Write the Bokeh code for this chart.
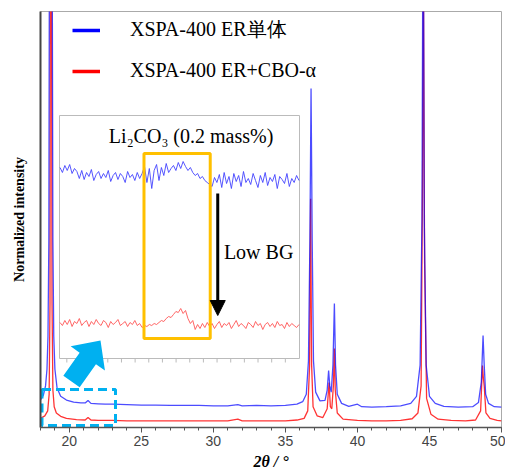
import numpy as np
from bokeh.plotting import figure
from bokeh.models import (Range1d, SingleIntervalTicker, FixedTicker, Legend, LegendItem,
                          Label, Arrow, NormalHead, PolyAnnotation)
from bokeh.embed import file_html
from bokeh.resources import INLINE

# ---------------- data ----------------
# main patterns: 2theta (deg) and normalized intensity
blue_x = [18.00, 18.20, 18.35, 18.45, 18.52, 18.58, 18.62, 18.72, 18.81, 18.86, 18.92, 19.00,
          19.15, 19.40, 19.80, 20.30, 20.80, 21.10, 21.30, 21.50, 22.00, 22.50, 23.00, 24.00,
          25.00, 26.00, 27.00, 28.00, 29.00, 30.00, 31.00, 31.70, 32.00, 33.00, 34.00, 35.00,
          35.80, 36.20, 36.45, 36.60, 36.70, 36.78, 36.86, 36.95, 37.10, 37.40, 37.75, 37.90,
          38.00, 38.08, 38.18, 38.30, 38.40, 38.48, 38.60, 38.90, 39.40, 40.00, 40.30, 41.00,
          42.00, 43.00, 43.70, 44.10, 44.35, 44.48, 44.56, 44.64, 44.77, 45.00, 45.40, 46.00,
          47.00, 48.00, 48.40, 48.60, 48.72, 48.80, 48.90, 49.10, 49.50, 50.00]
blue_y = [0.066, 0.078, 0.100, 0.140, 0.220, 0.450, 1.200, 2.500, 1.200, 0.450, 0.220, 0.140,
          0.095, 0.075, 0.066, 0.061, 0.059, 0.059, 0.065, 0.058, 0.057, 0.056, 0.056, 0.055,
          0.054, 0.054, 0.053, 0.053, 0.053, 0.052, 0.052, 0.055, 0.052, 0.053, 0.052, 0.053,
          0.056, 0.062, 0.080, 0.160, 0.450, 0.815, 0.450, 0.160, 0.085, 0.064, 0.065, 0.090,
          0.137, 0.100, 0.085, 0.150, 0.298, 0.150, 0.080, 0.058, 0.051, 0.056, 0.050, 0.049,
          0.050, 0.052, 0.058, 0.075, 0.150, 0.500, 1.400, 0.500, 0.150, 0.075, 0.058, 0.051,
          0.049, 0.050, 0.060, 0.110, 0.221, 0.150, 0.080, 0.058, 0.050, 0.049]

red_x = [18.00, 18.30, 18.50, 18.60, 18.66, 18.69, 18.72, 18.76, 18.80, 18.86, 18.95, 19.10,
         19.40, 19.80, 20.50, 21.10, 21.30, 21.50, 22.00, 23.00, 24.00, 25.00, 26.00, 27.00,
         28.00, 29.00, 30.00, 31.00, 31.70, 32.00, 33.00, 34.00, 35.00, 35.80, 36.30, 36.55,
         36.68, 36.75, 36.82, 36.92, 37.20, 37.60, 37.90, 38.03, 38.12, 38.22, 38.33, 38.40,
         38.46, 38.60, 39.00, 40.00, 41.00, 42.00, 43.00, 43.80, 44.20, 44.42, 44.52, 44.58,
         44.66, 44.80, 45.10, 45.60, 46.50, 47.50, 48.20, 48.55, 48.68, 48.74, 48.80, 48.92,
         49.20, 49.70, 50.00]
red_y = [0.022, 0.028, 0.040, 0.080, 0.300, 1.200, 2.200, 1.200, 0.300, 0.090, 0.050, 0.035,
         0.027, 0.022, 0.019, 0.018, 0.024, 0.018, 0.017, 0.017, 0.016, 0.016, 0.016, 0.016,
         0.016, 0.016, 0.016, 0.016, 0.020, 0.016, 0.016, 0.016, 0.016, 0.018, 0.022, 0.040,
         0.150, 0.550, 0.150, 0.050, 0.028, 0.024, 0.045, 0.108, 0.050, 0.045, 0.100, 0.190,
         0.090, 0.035, 0.020, 0.017, 0.016, 0.016, 0.017, 0.021, 0.035, 0.100, 0.600, 1.100,
         0.400, 0.070, 0.032, 0.020, 0.017, 0.016, 0.018, 0.040, 0.149, 0.120, 0.100, 0.035,
         0.022, 0.017, 0.016]

# inset (zoomed background region), 2theta grid and intensities (a.u.)
inset_x = np.linspace(19.5, 23.0, 100)
inset_blue = [191, 186, 193, 188, 194, 185, 190, 187,
              180, 188, 179, 186, 182, 189, 178, 184, 187, 180, 185, 181, 188, 177, 183, 186,
              179, 185, 182, 176, 187, 181, 184, 178, 186, 180,
              185, 192, 176, 190, 170, 188, 194, 178, 191, 183, 195, 186, 190, 193, 188,
              196, 190, 197, 192, 188, 191, 186, 183, 185,
              180, 182, 178, 176, 174, 172,
              181, 176, 184, 171, 186, 175, 182, 170, 185, 177, 183, 172, 187, 176, 180, 174,
              185, 178, 171, 183, 176, 186, 173, 181, 177, 184, 170, 182, 179, 175, 185, 172,
              180, 176, 183, 178]
inset_red = [36, 33, 38, 34, 39, 32, 37, 35, 40, 33, 36, 38, 32, 37, 34, 39, 35, 33, 38, 36,
             31, 37, 34, 36, 39, 33, 35, 37, 32, 36, 34, 38, 33, 35,
             31, 33, 32, 34, 33, 35, 34, 36, 38, 37, 40, 42, 41,
             44, 47, 46, 50, 45, 48,
             40, 35, 38, 29, 34, 30, 35, 31,
             36, 32, 35, 30, 34, 37, 31, 35, 33, 36, 30, 34, 38, 32, 35, 33, 30, 36, 34, 31,
             37, 33, 35, 29, 34, 36, 32, 35, 31, 37, 33, 34, 30, 36, 32, 35, 33, 31, 34]

legend_labels = ["XSPA-400 ER単体", "XSPA-400 ER+CBO-α"]
inset_title = "Li₂CO₃ (0.2 mass%)"
arrow_text = "Low BG"
x_title = "2θ / °"
y_title = "Normalized intensity"

# ---------------- layout helpers ----------------
SERIF = "Liberation Serif"
SANS = "Liberation Sans"
X0, X1, Y0, Y1 = 18.0, 50.0, 0.0, 1.0
W, H = 505, 475
FL, FR, FT, FB = 40, 501, 11, 427  # frame edges in page pixels


def px_x(px):
    return X0 + (px - FL) * (X1 - X0) / (FR - FL)


def px_y(py):
    return Y0 + (FB - py) * (Y1 - Y0) / (FB - FT)


p = figure(width=W, height=H, x_range=Range1d(X0, X1), y_range=Range1d(Y0, Y1),
           output_backend="svg", toolbar_location=None,
           min_border_left=FL, min_border_right=W - FR, min_border_top=FT,
           min_border_bottom=H - FB)
p.grid.visible = False
p.outline_line_color = "#AAAAAA"
p.outline_line_width = 1
p.background_fill_color = "white"

xa = p.xaxis[0]
xa.ticker = SingleIntervalTicker(interval=5, num_minor_ticks=5)
xa.major_label_text_font = SANS
xa.major_label_text_font_size = "14px"
xa.major_label_text_color = "#444444"
xa.major_label_standoff = 3
xa.axis_line_color = "#555555"
xa.axis_line_width = 1.5
xa.major_tick_line_color = "#555555"
xa.minor_tick_line_color = "#555555"
xa.major_tick_out = 5
xa.major_tick_in = 0
xa.minor_tick_out = 3
xa.minor_tick_in = 0
xa.axis_label = x_title
xa.axis_label_text_font = SERIF
xa.axis_label_text_font_style = "bold italic"
xa.axis_label_text_font_size = "16px"
xa.axis_label_text_color = "black"
xa.axis_label_standoff = 4

ya = p.yaxis[0]
ya.ticker = FixedTicker(ticks=[])
ya.axis_line_color = "#444444"
ya.axis_line_width = 2
ya.axis_label = y_title
ya.axis_label_text_font = SERIF
ya.axis_label_text_font_style = "bold"
ya.axis_label_text_font_size = "14px"
ya.axis_label_text_color = "black"
ya.axis_label_standoff = 14

# main curves
p.line(red_x, red_y, line_color="#FF0000", line_width=1.3, line_alpha=0.8)
p.line(blue_x, blue_y, line_color="#0000FF", line_width=1.3, line_alpha=0.7)

# inset box
IL, IR, IT, IB = 59, 299, 115, 358
p.quad(left=px_x(IL), right=px_x(IR), bottom=px_y(IB), top=px_y(IT),
       fill_color="white", line_color="#BBBBBB", line_width=1)

# inset ranges mapped into the inset box
ix0, ix1 = 19.5, 23.0
iy0, iy1 = 0.0, float(IB - IT)
mx0, mx1 = px_x(IL + 0.5), px_x(IR - 0.5)
my0, my1 = px_y(IB), px_y(IT)
ax = (ix1 - ix0) / (mx1 - mx0)
ay = (iy1 - iy0) / (my1 - my0)
p.extra_x_ranges = {"inset": Range1d(ix0 + (X0 - mx0) * ax, ix0 + (X1 - mx0) * ax)}
p.extra_y_ranges = {"inset": Range1d(iy0 + (Y0 - my0) * ay, iy0 + (Y1 - my0) * ay)}

p.line(inset_x, inset_red, line_color="#FF5555", line_width=1, line_alpha=0.9,
       x_range_name="inset", y_range_name="inset")
p.line(inset_x, inset_blue, line_color="#4444FF", line_width=1, line_alpha=0.9,
       x_range_name="inset", y_range_name="inset")

# inset bottom ticks
tick_pos = np.arange(19.6, 23.0, 0.2)
p.segment(x0=tick_pos, x1=tick_pos, y0=[0.0] * len(tick_pos), y1=[-4.0] * len(tick_pos),
          line_color="#BBBBBB", line_width=1, x_range_name="inset", y_range_name="inset")

# orange highlight box
p.quad(left=20.73, right=21.70, bottom=20, top=205, fill_color=None,
       line_color="#FFC000", line_width=3, x_range_name="inset", y_range_name="inset")

# black arrow
p.add_layout(Arrow(end=NormalHead(size=15, fill_color="black", line_color="black"),
                   x_start=21.81, y_start=165, x_end=21.81, y_end=43,
                   line_color="black", line_width=3,
                   x_range_name="inset", y_range_name="inset"))

p.add_layout(Label(x=21.90, y=107, text=arrow_text, text_font=SERIF, text_font_size="20px",
                   text_baseline="middle", text_color="black",
                   x_range_name="inset", y_range_name="inset"))
p.add_layout(Label(x=21.42, y=223, text=inset_title, text_font=SERIF, text_font_size="20px",
                   text_align="center", text_baseline="middle", text_color="black",
                   x_range_name="inset", y_range_name="inset"))

# cyan dashed zoom region
p.quad(left=px_x(41.5), right=px_x(115), bottom=px_y(425), top=px_y(389), fill_color=None,
       line_color="#00B0F0", line_width=3, line_dash="9 5")


# cyan block arrow
def block_arrow(tail, tip, shaft_hw, head_hw, head_len):
    t = np.array(tail, float)
    h = np.array(tip, float)
    d = h - t
    u = d / np.hypot(*d)
    n = np.array([-u[1], u[0]])
    base = h - u * head_len
    pts = [t + n * shaft_hw, base + n * shaft_hw, base + n * head_hw, h,
           base - n * head_hw, base - n * shaft_hw, t - n * shaft_hw]
    return [px_x(q[0]) for q in pts], [px_y(q[1]) for q in pts]


axs, ays = block_arrow((71, 381), (100, 340), 10, 21, 22)
p.add_layout(PolyAnnotation(xs=axs, ys=ays, fill_color="#00B0F0", fill_alpha=1.0,
                            line_color=None))

# legend (dummy renderers hold one off-screen point so that the legend glyph is styled)
lb = p.line([X0 - 10], [Y0 - 10], line_color="#0000FF", line_width=3.5)
lr = p.line([X0 - 10], [Y0 - 10], line_color="#FF0000", line_width=3.5)
legend = Legend(items=[LegendItem(label=legend_labels[0], renderers=[lb]),
                       LegendItem(label=legend_labels[1], renderers=[lr])],
                location=(32, 345), border_line_color=None, background_fill_alpha=0,
                padding=0, margin=0, spacing=16, glyph_width=28, glyph_height=20,
                label_height=20, label_standoff=30, label_text_font=SERIF,
                label_text_font_size="20px", label_text_color="black")
p.add_layout(legend)

open("out.html", "w").write(file_html(p, INLINE))
